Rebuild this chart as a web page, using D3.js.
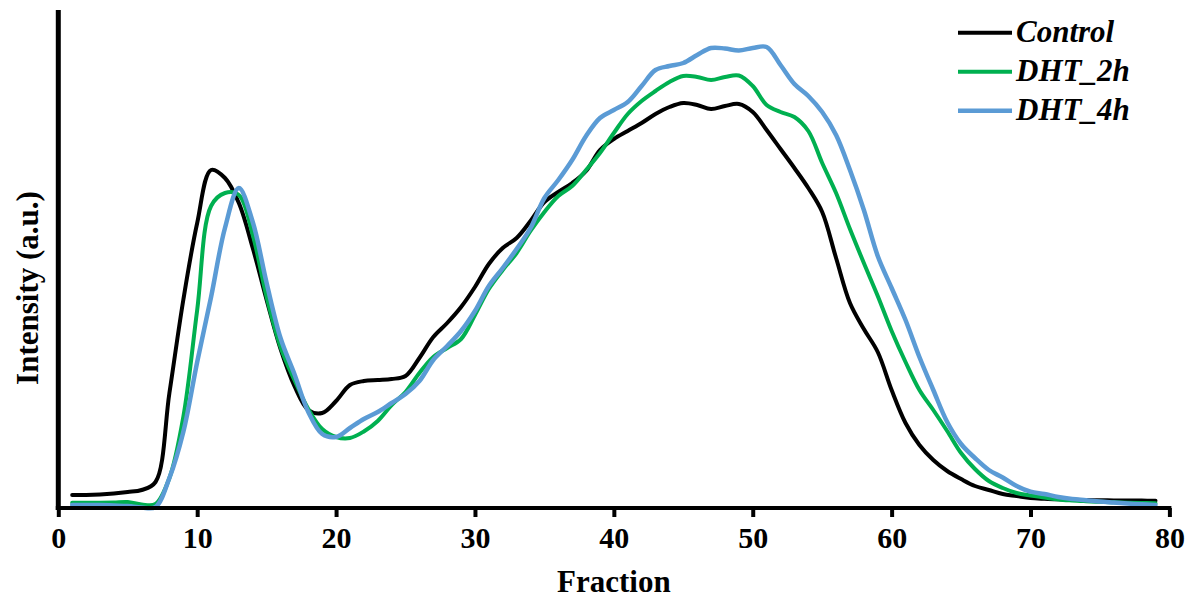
<!DOCTYPE html>
<html>
<head>
<meta charset="utf-8">
<script src="https://cdn.jsdelivr.net/npm/d3@7"></script>
<style>
  html, body { margin: 0; padding: 0; background: #fff; }
  svg { display: block; }
  text { font-family: "Liberation Serif", "Times New Roman", serif; font-weight: bold; fill: #000; }
</style>
</head>
<body>
<svg id="chart" width="1200" height="603"></svg>
<script>
// ---- data (arbitrary intensity units) ----
const fractions = d3.range(1, 80); // 1..79
const xTicks = [0, 10, 20, 30, 40, 50, 60, 70, 80];
const seriesNames = ["Control", "DHT_2h", "DHT_4h"];
const seriesColors = ["#000000", "#00B050", "#5B9BD5"];

const control = [
  13, 13, 13.5, 14.5, 16, 18, 26, 115, 208, 285,
  338, 330, 305, 260, 208, 159, 122, 98, 95, 107,
  123, 127, 128, 129, 132, 150, 171, 185, 201, 221,
  244, 260, 270, 287, 306, 316, 325, 337, 358, 369,
  377, 385, 394, 401, 405, 403, 399, 402, 404, 396,
  378, 359, 340, 320, 296, 250, 205, 179, 156, 118,
  85, 63, 48, 37, 29, 22, 18, 14, 12, 10,
  9.2, 8.7, 8.2, 8, 7.7, 7.6, 7.5, 7.4, 7.3
];
const dht2h = [
  5.3, 5.3, 5.3, 5.5, 6, 3.5, 4, 30, 91, 198,
  302, 315, 313, 273, 211, 161, 128, 99, 79, 71,
  70, 76.5, 87, 103, 116, 135, 151, 160, 169, 193,
  219, 238, 255, 277, 296, 312, 322, 338, 355, 375,
  394, 407, 417, 426, 432, 431, 428, 431, 432.5, 422,
  403, 396, 391, 377, 345, 315, 279, 245, 212, 177,
  146, 118, 98, 77, 55, 39, 27, 20, 15, 12.5,
  10.5, 8.5, 7.5, 6.8, 6.2, 5.7, 5.3, 5, 4.7
];
const dht4h = [
  3, 3, 3, 2.5, 2, 0.5, 1, 30, 76, 146,
  211, 280, 320, 286, 225, 170, 134, 96, 74, 71,
  80, 89, 96, 105, 114, 127, 148, 162, 177, 197,
  222, 240, 259, 280, 310, 328, 348, 372, 390, 398,
  406, 422, 438, 442, 445, 453, 460, 459.5, 457.5, 460,
  461, 443, 424, 412, 396, 373, 338, 298, 252, 220,
  188, 151, 118, 86, 64, 50, 38, 30.5, 22, 16.3,
  14, 11, 9, 7.8, 6.5, 5.5, 4.5, 3.7, 3
];
const seriesValues = [control, dht2h, dht4h];

// ---- layout ----
const svg = d3.select("#chart");
const x = d3.scaleLinear().domain([0, 80]).range([58.3, 1169.4]);
const y = d3.scaleLinear().domain([0, 498]).range([508, 10]);

// curves
const line = d3.line()
  .x((d, i) => x(fractions[i]))
  .y(d => y(d))
  .curve(d3.curveCatmullRom.alpha(0.5));

const widths = [4, 4, 4.5];
seriesValues.forEach((vals, k) => {
  svg.append("path")
    .datum(vals)
    .attr("fill", "none")
    .attr("stroke", seriesColors[k])
    .attr("stroke-width", widths[k])
    .attr("stroke-linejoin", "round")
    .attr("stroke-linecap", "round")
    .attr("d", line);
});

// x axis
const xAxis = d3.axisBottom(x).tickValues(xTicks).tickSize(9).tickPadding(10).tickSizeOuter(0);
const gx = svg.append("g").attr("transform", `translate(0,${y(0)})`).call(xAxis);
gx.select(".domain").attr("stroke", "#000").attr("stroke-width", 4)
  .attr("d", `M${x(0) - 2.5},0H${x(80) + 2}`);
gx.selectAll(".tick line").attr("stroke", "#000").attr("stroke-width", 4);
gx.selectAll(".tick text")
  .style("font-family", '"Liberation Serif", "Times New Roman", serif')
  .style("font-weight", "bold")
  .style("font-size", "30px")
  .attr("fill", "#000");

// y axis (no ticks)
const yAxis = d3.axisLeft(y).tickValues([]).tickSizeOuter(0);
const gy = svg.append("g").attr("transform", `translate(${x(0)},0)`).call(yAxis);
gy.select(".domain").attr("stroke", "#000").attr("stroke-width", 5)
  .attr("d", `M0,${y(498)}V${y(0) + 2}`);

// axis titles
svg.append("text")
  .attr("x", x(40)).attr("y", 592)
  .attr("text-anchor", "middle")
  .style("font-size", "31px")
  .text("Fraction");

svg.append("text")
  .attr("transform", `translate(38,288) rotate(-90)`)
  .attr("text-anchor", "middle")
  .style("font-size", "31px")
  .text("Intensity (a.u.)");

// legend
const legendY = [32.7, 71.7, 110.7];
seriesNames.forEach((name, k) => {
  svg.append("line")
    .attr("x1", 958).attr("x2", 1012)
    .attr("y1", legendY[k]).attr("y2", legendY[k])
    .attr("stroke", seriesColors[k])
    .attr("stroke-width", widths[k]);
  svg.append("text")
    .attr("x", 1016).attr("y", legendY[k] + 9.5)
    .style("font-size", "31px")
    .style("font-style", "italic")
    .text(name);
});
</script>
</body>
</html>
